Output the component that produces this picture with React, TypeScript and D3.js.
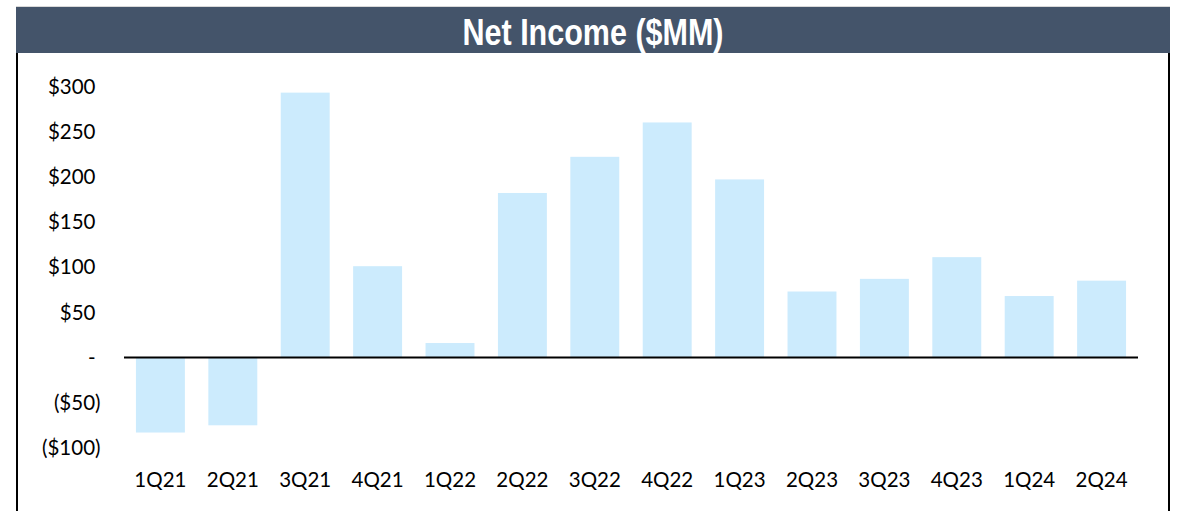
import React from "react";
import * as d3 from "d3";

const categories = ["1Q21","2Q21","3Q21","4Q21","1Q22","2Q22","3Q22","4Q22","1Q23","2Q23","3Q23","4Q23","1Q24","2Q24"];
const netIncome = [-83, -75, 293, 101, 16, 182, 222, 260, 197, 73, 87, 111, 68, 85];
const yTickValues = [300, 250, 200, 150, 100, 50, 0, -50, -100];
const yTickLabels = ["$300","$250","$200","$150","$100","$50","-","($50)","($100)"];
const title = "Net Income ($MM)";

const W = 1178;
const H = 511;

export default function App() {
  const x = d3.scaleBand<string>()
    .domain(categories)
    .range([124, 1138])
    .paddingInner(0.324)
    .paddingOuter(0.165);
  const y = d3.scaleLinear().domain([-100, 300]).range([447.9, 86.3]);
  const font = "Lato, 'Open Sans', sans-serif";

  return (
    <svg width={W} height={H} style={{ position: "absolute", left: 0, top: 0, background: "#fff" }}>
      {/* frame */}
      <rect x={16} y={6} width={1154} height={47} fill="#44546A" />
      <line x1={16} x2={1170} y1={6.5} y2={6.5} stroke="#D9D9D9" strokeWidth={1} />
      <line x1={17} x2={17} y1={53} y2={H} stroke="#000" strokeWidth={2} />
      <line x1={1169} x2={1169} y1={53} y2={H} stroke="#000" strokeWidth={2} />
      <text
        x={593}
        y={44.5}
        textAnchor="middle"
        fill="#fff"
        fontFamily="'Liberation Sans Narrow', 'Arial Narrow', 'Liberation Sans', Arial, sans-serif"
        fontWeight="bold"
        fontSize={36.5}
        textLength={261}
        lengthAdjust="spacingAndGlyphs"
      >
        {title}
      </text>

      {/* bars */}
      {netIncome.map((v, i) => (
        <rect
          key={categories[i]}
          x={x(categories[i])}
          width={x.bandwidth()}
          y={y(Math.max(0, v))}
          height={Math.abs(y(v) - y(0))}
          fill="#CCEBFD"
        />
      ))}

      {/* zero line */}
      <line x1={124} x2={1138} y1={y(0)} y2={y(0)} stroke="#000" strokeWidth={2} />

      {/* y labels */}
      {yTickValues.map((t, i) => (
        <text
          key={t}
          x={t < 0 ? 100.5 : 95.5}
          y={y(t)}
          dy="0.36em"
          textAnchor="end"
          fontFamily={font}
          fontSize={20.5}
          fill="#000"
        >
          {yTickLabels[i]}
        </text>
      ))}

      {/* x labels */}
      {categories.map((c) => (
        <text
          key={c}
          x={(x(c) as number) + x.bandwidth() / 2}
          y={480}
          dy="0.36em"
          textAnchor="middle"
          fontFamily={font}
          fontSize={20.5}
          fill="#000"
        >
          {c}
        </text>
      ))}
    </svg>
  );
}
